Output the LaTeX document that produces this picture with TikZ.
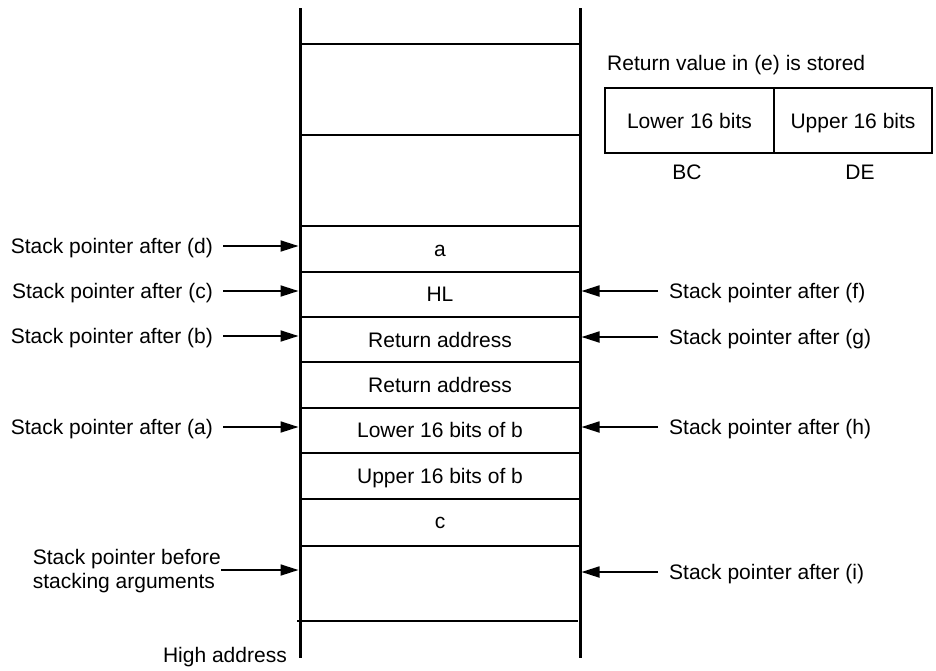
\documentclass[tikz,border=0pt]{standalone}
\usepackage{fontspec}
\setmainfont{Liberation Sans}
\usetikzlibrary{arrows.meta}
\begin{document}
\begin{tikzpicture}[x=1pt,y=-1pt,
  txt/.style={font=\fontsize{21}{24}\selectfont, inner sep=0pt,
              text height=17pt, text depth=2.5pt},
  rail/.style={line width=3pt},
  rule/.style={line width=2pt},
  ptr/.style={line width=1.8pt, -{Triangle[length=18pt,width=11pt]}},
  lptr/.style={ptr, shorten <=10pt},
  rptr/.style={ptr, shorten <=11pt},
]
\useasboundingbox (0,0) rectangle (936,670);

% the two side rails of the stack
\draw[rail] (300,8) -- (300,658);
\draw[rail] (580,8) -- (580,658);

% boundaries between the stack cells
\foreach \y in {44,135,226,272,317,362,408,453,499,546}
  \draw[rule] (300,\y) -- (580,\y);
\draw[rule] (297,621) -- (578,621);

% cell contents
\node[txt] (ca)  at (440,249) {a};
\node[txt] (chl) at (440,294) {HL};
\node[txt] (cr1) at (440,340) {Return address};
\node[txt] (cr2) at (440,385) {Return address};
\node[txt] (clo) at (440,430) {Lower 16 bits of b};
\node[txt] (cup) at (440,476) {Upper 16 bits of b};
\node[txt] (cc)  at (440,521) {c};

% pointer targets on the rails
\coordinate (Ld) at (298.5,246);
\coordinate (Lc) at (298.5,291);
\coordinate (Lb) at (298.5,336);
\coordinate (La) at (298.5,427);
\coordinate (L0) at (298.5,570);
\coordinate (Rf) at (581.5,291);
\coordinate (Rg) at (581.5,337);
\coordinate (Rh) at (581.5,427);
\coordinate (Ri) at (581.5,572);

% left-hand pointer labels
\node[txt, anchor=east] (pd) at (213,246) {Stack pointer after (d)};
\node[txt, anchor=east] (pc) at (213,291) {Stack pointer after (c)};
\node[txt, anchor=east] (pb) at (213,336) {Stack pointer after (b)};
\node[txt, anchor=east] (pa) at (213,427) {Stack pointer after (a)};
\node[font=\fontsize{21}{24}\selectfont, inner sep=0pt, anchor=east, align=left]
  (p0) at (221,571) {Stack pointer before\\stacking arguments};
\coordinate (p0e) at (221,570);

\draw[lptr] (pd.east) -- (Ld);
\draw[lptr] (pc.east) -- (Lc);
\draw[lptr] (pb.east) -- (Lb);
\draw[lptr] (pa.east) -- (La);
\draw[ptr] (p0e) -- (L0);

% right-hand pointer labels
\node[txt, anchor=west] (pf) at (669,291) {Stack pointer after (f)};
\node[txt, anchor=west] (pg) at (669,337) {Stack pointer after (g)};
\node[txt, anchor=west] (ph) at (669,427) {Stack pointer after (h)};
\node[txt, anchor=west] (pi) at (669,572) {Stack pointer after (i)};

\draw[rptr] (pf.west) -- (Rf);
\draw[rptr] (pg.west) -- (Rg);
\draw[rptr] (ph.west) -- (Rh);
\draw[rptr] (pi.west) -- (Ri);

% bottom label
\node[txt, anchor=east] (high) at (287,655) {High address};

% register pair holding the return value
\node[txt, anchor=west] (rv) at (607,63) {Return value in (e) is stored};
\draw[rule] (605,88) rectangle (932,153);
\draw[rule] (774,88) -- (774,153);
\node[txt] (lo) at (689.5,121) {Lower 16 bits};
\node[txt] (up) at (853,121) {Upper 16 bits};
\node[txt] (bc) at (687,172) {BC};
\node[txt] (de) at (860,172) {DE};
\end{tikzpicture}
\end{document}
